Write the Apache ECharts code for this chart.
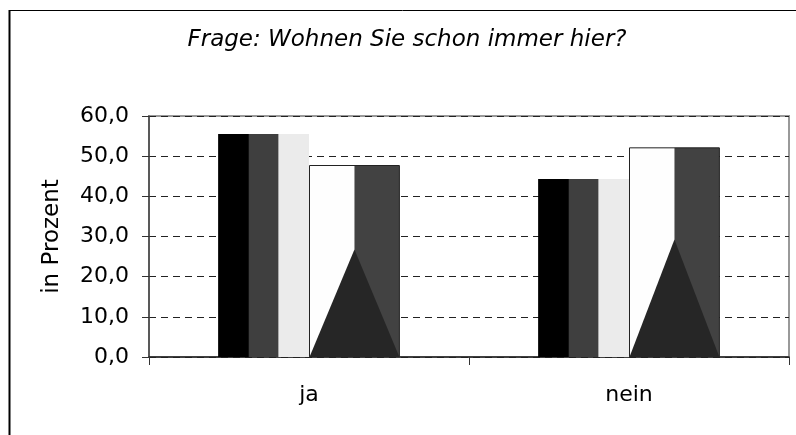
<!DOCTYPE html>
<html>
<head>
<meta charset="utf-8">
<script src="https://cdn.jsdelivr.net/npm/echarts@6/dist/echarts.min.js"></script>
<style>
html,body{margin:0;padding:0;background:#fff;}
#chart{width:796px;height:435px;}
</style>
</head>
<body>
<div id="chart"></div>
<script>
var categories = ['ja', 'nein'];
var serie1 = [55.5, 44.3];
var serie2 = [47.8, 52.2];
var seriesNames = ['Reihe 1', 'Reihe 2'];
var yMin = 0, yMax = 60, yStep = 10;
var titleText = 'Frage: Wohnen Sie schon immer hier?';
var yAxisName = 'in Prozent';

var FONT = '"DejaVu Sans", sans-serif';
var BAR_W = 0.284;

var chart = echarts.init(document.getElementById('chart'), null, {renderer: 'canvas'});

var option = {
  backgroundColor: '#ffffff',
  animation: false,
  title: {
    text: titleText,
    left: 407,
    top: 29,
    padding: 0,
    textAlign: 'center',
    textStyle: {fontFamily: FONT, fontStyle: 'italic', fontWeight: 'normal', fontSize: 23, color: '#000'}
  },
  graphic: [
    {type: 'line', shape: {x1: 9, y1: 10.5, x2: 796, y2: 10.5}, style: {stroke: '#000', lineWidth: 1}, silent: true},
    {type: 'line', shape: {x1: 9.5, y1: 10, x2: 9.5, y2: 435}, style: {stroke: '#000', lineWidth: 2}, silent: true}
  ],
  grid: {
    left: 149, right: 7, top: 116, bottom: 78,
    show: true, borderColor: '#999', borderWidth: 2, backgroundColor: 'transparent'
  },
  xAxis: {
    type: 'category',
    data: categories,
    axisLine: {lineStyle: {color: '#222', width: 1.5}},
    axisTick: {show: true, length: 8, alignWithLabel: false, lineStyle: {color: '#333'}},
    axisLabel: {fontFamily: FONT, fontSize: 22, color: '#000', margin: 27},
    splitLine: {show: false}
  },
  yAxis: {
    type: 'value',
    min: yMin, max: yMax, interval: yStep,
    name: yAxisName,
    nameLocation: 'middle',
    nameRotate: 90,
    nameGap: 85,
    nameTextStyle: {fontFamily: FONT, fontSize: 23, color: '#000'},
    axisLine: {show: true, lineStyle: {color: '#444', width: 1.5}},
    axisTick: {show: true, length: 7, lineStyle: {color: '#333'}},
    axisLabel: {
      fontFamily: FONT, fontSize: 22, color: '#000', margin: 20,
      formatter: function (v) { return v.toFixed(1).replace('.', ','); }
    },
    splitLine: {show: true, lineStyle: {color: '#222', type: [7, 5], width: 1}}
  },
  series: [
    {
      name: seriesNames[0],
      type: 'bar',
      data: serie1,
      barWidth: (BAR_W * 100) + '%',
      barGap: '0%',
      itemStyle: {
        color: {
          type: 'linear', x: 0, y: 0, x2: 1, y2: 0,
          colorStops: [
            {offset: 0, color: '#000000'}, {offset: 0.33, color: '#000000'},
            {offset: 0.345, color: '#3f3f3f'}, {offset: 0.655, color: '#3f3f3f'},
            {offset: 0.67, color: '#ebebeb'}, {offset: 1, color: '#ebebeb'}
          ]
        }
      }
    },
    {
      name: seriesNames[1],
      type: 'bar',
      data: serie2,
      barWidth: (BAR_W * 100) + '%',
      barGap: '0%',
      itemStyle: {
        borderColor: '#222', borderWidth: 1,
        color: {
          type: 'linear', x: 0, y: 0, x2: 1, y2: 0,
          colorStops: [
            {offset: 0, color: '#fefefe'}, {offset: 0.49, color: '#fefefe'},
            {offset: 0.51, color: '#424242'}, {offset: 1, color: '#424242'}
          ]
        }
      }
    },
    {
      name: seriesNames[1] + ' Muster',
      type: 'custom',
      silent: true,
      z: 3,
      data: categories.map(function (c, i) { return [i, serie2[i]]; }),
      renderItem: function (params, api) {
        var idx = api.value(0);
        var val = api.value(1);
        var base = api.coord([idx, 0]);
        var topP = api.coord([idx, val]);
        var band = api.size([1, 0])[0];
        var bw = band * BAR_W;
        var left = base[0];
        var right = left + bw;
        var bottom = base[1];
        var h = (bottom - topP[1]) * 0.56;
        return {
          type: 'polygon',
          shape: {points: [[left + 0.5, bottom], [left + bw / 2, bottom - h], [right - 0.5, bottom]]},
          style: {fill: '#262626', stroke: null}
        };
      }
    }
  ]
};
chart.setOption(option);
</script>
</body>
</html>
